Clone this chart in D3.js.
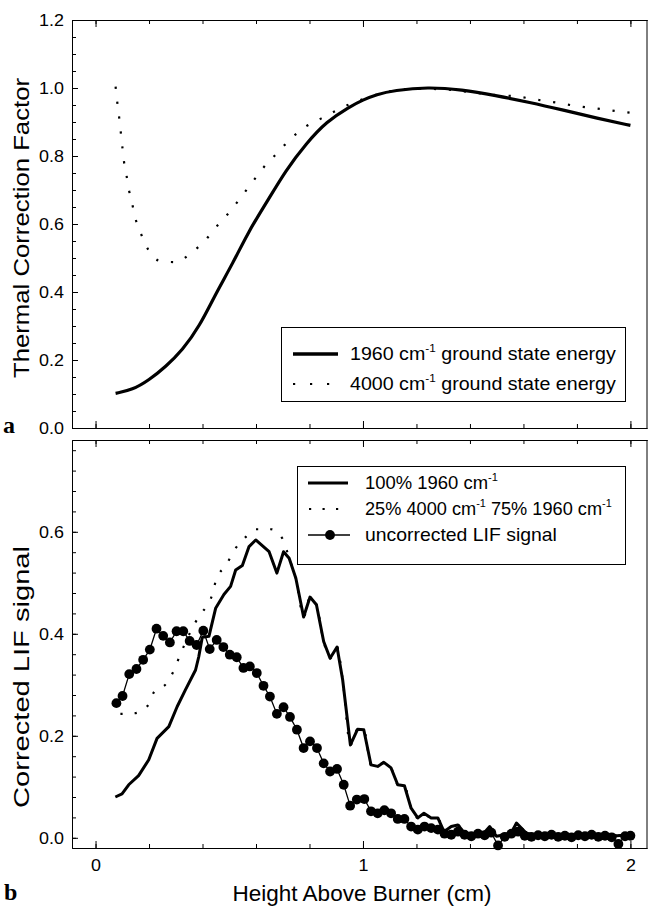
<!DOCTYPE html>
<html><head><meta charset="utf-8">
<script src="https://cdn.jsdelivr.net/npm/d3@7"></script>
<style>body{margin:0;background:#fff} svg{display:block}</style>
</head><body>
<svg id="c" width="648" height="912"></svg>
<script>
// ---------- DATA ----------
// Panel a: thermal correction factor
const topX1960 = [0.075,0.138,0.2,0.262,0.325,0.388,0.45,0.513,0.575,0.638,0.712,0.788,0.863,0.95,1.0,1.05,1.116,1.243,1.369,1.496,1.623,1.749,1.876,2.0];
const topY1960 = [0.102,0.112,0.141,0.18,0.229,0.298,0.396,0.484,0.582,0.661,0.759,0.837,0.901,0.945,0.965,0.981,0.993,1.003,0.995,0.978,0.958,0.935,0.911,0.89];
const topX4000 = [0.075,0.081,0.088,0.094,0.1,0.106,0.116,0.125,0.138,0.15,0.17,0.196,0.246,0.301,0.356,0.41,0.455,0.503,0.546,0.588,0.629,0.68,0.73,0.787,0.843,0.896,0.952,1.01,1.1,1.2,1.3,1.4,1.5,1.565,1.618,1.671,1.725,1.781,1.837,1.892,1.948,2.0];
const topY4000 = [1.004,0.96,0.916,0.873,0.829,0.786,0.742,0.7,0.656,0.614,0.571,0.526,0.49,0.488,0.514,0.552,0.595,0.637,0.681,0.725,0.767,0.809,0.851,0.887,0.91,0.932,0.953,0.97,0.99,0.998,0.996,0.988,0.979,0.976,0.97,0.963,0.957,0.949,0.943,0.938,0.932,0.927];

// Panel b: corrected LIF signal
const botX100 = [0.074,0.099,0.124,0.161,0.199,0.23,0.274,0.305,0.336,0.374,0.386,0.399,0.424,0.449,0.48,0.505,0.524,0.549,0.574,0.599,0.649,0.678,0.703,0.724,0.749,0.778,0.802,0.826,0.853,0.877,0.903,0.924,0.953,0.98,1.003,1.03,1.055,1.078,1.105,1.13,1.155,1.18,1.205,1.228,1.255,1.28,1.303,1.33,1.355,1.38,1.418,1.45,1.474,1.499,1.53,1.555,1.574,1.611,1.65,1.7,1.75,1.8,1.85,1.9,1.95,2.0];
const botY100 = [0.080,0.086,0.104,0.122,0.153,0.195,0.218,0.257,0.29,0.329,0.355,0.393,0.395,0.450,0.477,0.493,0.525,0.534,0.571,0.584,0.561,0.519,0.561,0.548,0.509,0.433,0.472,0.457,0.385,0.352,0.374,0.31,0.182,0.213,0.212,0.143,0.14,0.148,0.137,0.104,0.102,0.058,0.039,0.048,0.039,0.039,0.012,0.022,0.025,0.009,0.006,0.008,0.022,0.003,0.006,0.01,0.029,0.009,0.004,0.006,0.003,0.006,0.004,0.007,0.004,0.006];
const botX25 = [0.093,0.143,0.195,0.22,0.264,0.293,0.315,0.393,0.417,0.436,0.451,0.489,0.52,0.558,0.6,0.655,0.701,0.724,0.749,0.778,0.802,0.826,0.853,0.877,0.903,0.924,0.953,0.98,1.003,1.03,1.055,1.078,1.105,1.13,1.155,1.18,1.205,1.228,1.255,1.28,1.303,1.33,1.355,1.38,1.418,1.45,1.474,1.499,1.53,1.555,1.574,1.611,1.65,1.7,1.75,1.8,1.85,1.9,1.95,2.0];
const botY25 = [0.243,0.244,0.259,0.287,0.302,0.328,0.357,0.439,0.455,0.476,0.506,0.535,0.565,0.588,0.605,0.605,0.585,0.548,0.509,0.433,0.472,0.457,0.385,0.352,0.374,0.31,0.182,0.213,0.212,0.143,0.14,0.148,0.137,0.104,0.102,0.058,0.039,0.048,0.039,0.039,0.012,0.022,0.025,0.009,0.006,0.008,0.022,0.003,0.006,0.01,0.029,0.009,0.004,0.006,0.003,0.006,0.004,0.007,0.004,0.006];
const botXunc = [0.078,0.101,0.126,0.153,0.178,0.203,0.228,0.253,0.278,0.303,0.328,0.352,0.378,0.403,0.427,0.453,0.478,0.502,0.528,0.553,0.577,0.603,0.628,0.652,0.678,0.703,0.727,0.753,0.778,0.802,0.828,0.853,0.877,0.903,0.928,0.952,0.977,1.005,1.03,1.055,1.08,1.105,1.13,1.155,1.18,1.205,1.23,1.255,1.28,1.305,1.33,1.355,1.38,1.405,1.43,1.455,1.48,1.505,1.53,1.555,1.58,1.605,1.63,1.655,1.68,1.705,1.73,1.755,1.78,1.805,1.83,1.855,1.88,1.905,1.93,1.955,1.98,2.0];
const botYunc = [0.264,0.278,0.321,0.331,0.349,0.369,0.41,0.396,0.383,0.405,0.405,0.386,0.378,0.406,0.37,0.388,0.374,0.359,0.354,0.333,0.336,0.323,0.298,0.277,0.243,0.256,0.237,0.212,0.176,0.189,0.176,0.146,0.13,0.135,0.104,0.063,0.075,0.076,0.052,0.048,0.054,0.048,0.037,0.037,0.022,0.016,0.022,0.019,0.016,0.008,0.006,0.012,0.006,0.003,0.008,0.005,0.01,-0.015,0.002,0.008,0.012,0.004,0.002,0.005,0.003,0.006,0.002,0.004,0.001,0.005,0.003,0.006,0.002,0.004,0.001,-0.012,0.003,0.004];

const xTickLabels = ["0","1","2"];
const topYTicks = [0,0.2,0.4,0.6,0.8,1.0,1.2];
const botYTicks = [0,0.2,0.4,0.6];

// ---------- DRAW ----------
const svg = d3.select('#c');
const F = "'Liberation Sans', Arial, Helvetica, sans-serif";
const x = d3.scaleLinear().domain([-0.088, 2.062]).range([72, 647]);
const yT = d3.scaleLinear().domain([0, 1.2]).range([428, 20]);
const yB = d3.scaleLinear().domain([-0.02, 0.78]).range([848, 440]);

const xMinor = d3.range(0, 2.0001, 0.2);
const xMajor = [0, 1, 2];
const SX = 1.12; // horizontal stretch of tick labels

function styleAxis(g){
  g.selectAll('path.domain').attr('stroke','#000').attr('stroke-width',1);
  g.selectAll('.tick line').attr('stroke','#000').attr('stroke-width',1);
  g.attr('font-family',F);
}
function noText(g){ g.selectAll('.tick text').remove(); }

function frame(y, top, bottom, yMinor, yMajor, fmt, showXLabels){
  svg.append('g').attr('transform',`translate(72,0)`)
    .call(d3.axisLeft(y).tickValues(yMinor).tickSizeInner(-4).tickSizeOuter(0))
    .call(styleAxis).call(noText);
  const gl = svg.append('g').attr('transform',`translate(72,0)`)
    .call(d3.axisLeft(y).tickValues(yMajor).tickSizeInner(-6).tickSizeOuter(0).tickPadding(8).tickFormat(fmt))
    .call(styleAxis);
  gl.selectAll('text').attr('font-size',16).attr('fill','#000').attr('dy','0.35em')
    .attr('transform',`scale(${SX},1)`);
  svg.append('g').attr('transform',`translate(0,${top})`)
    .call(d3.axisTop(x).tickValues(xMinor).tickSizeInner(-4).tickSizeOuter(0))
    .call(styleAxis).call(noText);
  svg.append('g').attr('transform',`translate(0,${top})`)
    .call(d3.axisTop(x).tickValues(xMajor).tickSizeInner(-7).tickSizeOuter(0))
    .call(styleAxis).call(noText);
  svg.append('g').attr('transform',`translate(0,${bottom})`)
    .call(d3.axisBottom(x).tickValues(xMinor).tickSizeInner(-4).tickSizeOuter(0))
    .call(styleAxis).call(noText);
  const gb = svg.append('g').attr('transform',`translate(0,${bottom})`)
    .call(d3.axisBottom(x).tickValues(xMajor).tickSizeInner(-7).tickSizeOuter(0).tickPadding(9)
      .tickFormat((d,i)=> xTickLabels[i]))
    .call(styleAxis);
  if(showXLabels){
    gb.selectAll('text').attr('font-size',16).attr('fill','#000').attr('dy','0.85em')
      .attr('transform',`scale(${SX},1)`).attr('x',0);
  } else gb.call(noText);
  svg.append('line').attr('x1',647).attr('x2',647).attr('y1',top).attr('y2',bottom)
    .attr('stroke','#000').attr('stroke-width',1);
}

frame(yT, 20, 428, d3.range(0, 1.2001, 0.05), topYTicks, d3.format('.1f'), false);
frame(yB, 440, 848, d3.range(0, 0.7601, 0.04), botYTicks, d3.format('.1f'), true);
svg.selectAll('.tick text').each(function(){
  const t = d3.select(this);
  if(t.attr('transform')){
    const xx = +t.attr('x') || 0;
    t.attr('x', xx / SX);
  }
});

// ---- panel a lines
const lineTs = d3.line().x(d=>x(d[0])).y(d=>yT(d[1])).curve(d3.curveBasis);
const lineTd = d3.line().x(d=>x(d[0])).y(d=>yT(d[1])).curve(d3.curveMonotoneX);
svg.append('path').datum(d3.zip(topX4000, topY4000)).attr('d', lineTd)
  .attr('fill','none').attr('stroke','#000').attr('stroke-width',2.2).attr('stroke-dasharray','2.2 12.8');
svg.append('path').datum(d3.zip(topX1960, topY1960)).attr('d', lineTs)
  .attr('fill','none').attr('stroke','#000').attr('stroke-width',3.2);

// ---- panel b lines
const lineD = d3.line().x(d=>x(d[0])).y(d=>yB(d[1])).curve(d3.curveMonotoneX);
svg.append('path').datum(d3.zip(botX25, botY25)).attr('d', lineD)
  .attr('fill','none').attr('stroke','#000').attr('stroke-width',2.2).attr('stroke-dasharray','2.2 12');
const lineL = d3.line().x(d=>x(d[0])).y(d=>yB(d[1]));
svg.append('path').datum(d3.zip(botX100, botY100)).attr('d', lineL)
  .attr('fill','none').attr('stroke','#000').attr('stroke-width',3).attr('stroke-linejoin','round');
svg.append('path').datum(d3.zip(botXunc, botYunc)).attr('d', lineL)
  .attr('fill','none').attr('stroke','#000').attr('stroke-width',1.3);
svg.append('g').selectAll('circle').data(d3.zip(botXunc, botYunc)).join('circle')
  .attr('cx',d=>x(d[0])).attr('cy',d=>yB(d[1])).attr('r',4.9).attr('fill','#000');

// ---- legends
// text stretched horizontally so that each line spans the target width
function supText(g, xPos, yPos, parts, fs, targetW){
  const t = g.append('text').attr('transform',`translate(${xPos},${yPos})`)
    .attr('font-family',F).attr('font-size',fs).attr('fill','#000');
  let raised = false;
  parts.forEach(p=>{
    const ts = t.append('tspan').text(p.t);
    if(p.sup){ ts.attr('dy',-fs*0.42).attr('font-size',fs*0.6); raised = true; }
    else if(raised){ ts.attr('dy',fs*0.42); raised = false; }
  });
  const w = t.node().getBBox().width;
  const s = w > 0 ? targetW / w : 1;
  t.attr('transform',`translate(${xPos},${yPos}) scale(${s},1)`);
}
const lg1 = svg.append('g');
lg1.append('rect').attr('x',281.5).attr('y',327.5).attr('width',344).attr('height',74)
  .attr('fill','#fff').attr('stroke','#000').attr('stroke-width',1);
lg1.append('line').attr('x1',293).attr('x2',338).attr('y1',354).attr('y2',354).attr('stroke','#000').attr('stroke-width',3.5);
lg1.append('line').attr('x1',293).attr('x2',331).attr('y1',384).attr('y2',384).attr('stroke','#000')
  .attr('stroke-width',2.2).attr('stroke-dasharray','2.2 14.8');
supText(lg1, 350, 360, [{t:'1960 cm'},{t:'-1',sup:true},{t:' ground state energy'}], 18, 266);
supText(lg1, 350, 390, [{t:'4000 cm'},{t:'-1',sup:true},{t:' ground state energy'}], 18, 266);

const lg2 = svg.append('g');
lg2.append('rect').attr('x',297.5).attr('y',466.5).attr('width',328).attr('height',98)
  .attr('fill','#fff').attr('stroke','#000').attr('stroke-width',1);
lg2.append('line').attr('x1',308).attr('x2',348).attr('y1',483).attr('y2',483).attr('stroke','#000').attr('stroke-width',2.8);
lg2.append('line').attr('x1',309).attr('x2',340).attr('y1',509).attr('y2',509).attr('stroke','#000')
  .attr('stroke-width',2.2).attr('stroke-dasharray','2.2 11.3');
lg2.append('line').attr('x1',308).attr('x2',350).attr('y1',535).attr('y2',535).attr('stroke','#000').attr('stroke-width',1.3);
lg2.append('circle').attr('cx',330).attr('cy',535).attr('r',4.9).attr('fill','#000');
supText(lg2, 365, 489, [{t:'100% 1960 cm'},{t:'-1',sup:true}], 18, 133);
supText(lg2, 365, 515, [{t:'25% 4000 cm'},{t:'-1',sup:true},{t:' 75% 1960 cm'},{t:'-1',sup:true}], 18, 247);
supText(lg2, 365, 541, [{t:'uncorrected LIF signal'}], 18, 192);

// ---- titles
svg.append('text').attr('transform','translate(29,228) rotate(-90)').attr('text-anchor','middle')
  .attr('font-family',F).attr('font-size',22).attr('textLength',300).attr('lengthAdjust','spacingAndGlyphs')
  .text('Thermal Correction Factor');
svg.append('text').attr('transform','translate(29,677) rotate(-90)').attr('text-anchor','middle')
  .attr('font-family',F).attr('font-size',22).attr('textLength',262).attr('lengthAdjust','spacingAndGlyphs')
  .text('Corrected LIF signal');
svg.append('text').attr('x',362).attr('y',901).attr('text-anchor','middle')
  .attr('font-family',F).attr('font-size',22.5).text('Height Above Burner (cm)');
svg.append('text').attr('x',3).attr('y',433).attr('font-family',"'Liberation Serif', 'Times New Roman', serif")
  .attr('font-weight','bold').attr('font-size',24).text('a');
svg.append('text').attr('x',4).attr('y',900).attr('font-family',"'Liberation Serif', 'Times New Roman', serif")
  .attr('font-weight','bold').attr('font-size',24).text('b');
</script>
</body></html>
